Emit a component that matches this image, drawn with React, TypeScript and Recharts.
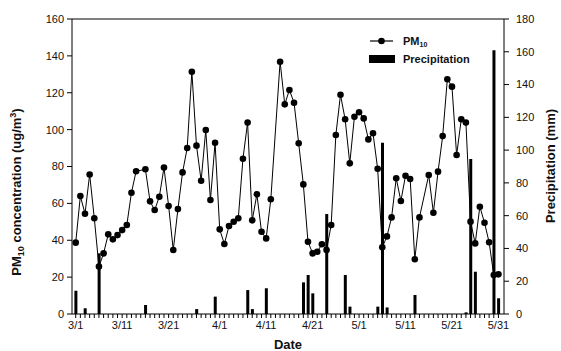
import React from 'react';
import { ComposedChart, Line, Bar, XAxis, YAxis, ReferenceLine, Legend, Label } from 'recharts';

// Calendar days 3/1 .. 5/31
const monthLengths: [number, number][] = [[3, 31], [4, 30], [5, 31]];
const dates: string[] = [];
monthLengths.forEach(([m, n]) => {
  for (let d = 1; d <= n; d++) dates.push(`${m}/${d}`);
});

const tickLabels = ['3/1', '3/11', '3/21', '4/1', '4/11', '4/21', '5/1', '5/11', '5/21', '5/31'];

// PM10 daily concentration (ug/m3), null = missing day
const pm10: (number | null)[] = [
  38.7, 64, 54.4, 75.7, 51.9, 25.7, 32.9, 43.2, 40.5, 42.8, 45.5, 48.3, 65.8, 77.4,
  null,
  78.5, 61.1, 56.4, 63.6, 79.4, 58.6, 34.7, 56.9, 76.8, 90, 131.4, 91.3, 72.3, 99.8,
  61.8, 92.9, 45.9, 38, 47.7, 50, 51.9, 84.2, 103.8, 50.8, 64.9, 44.6, 41, 62.2,
  null,
  136.8, 113.7, 121.5, 114.6, 92.6, 70.3, 39.2, 32.9, 33.8, 37.8, 34.7, 48.3, 97.1,
  118.9, 105.6, 81.7, 107, 109.4, 106.1, 94.7, 98, 78.8, 36.2, 42.1, 52.4, 73.6,
  61.3, 75, 73.2, 29.7, 52.4,
  null,
  75.4, 54.9, 77.2, 96.5, 127.3, 123.3, 86.2, 105.6, 103.8, 50.1, 38.3, 58.2, 49.5,
  38.9, 21.1, 21.5,
];

// Daily precipitation (mm)
const precipitation: number[] = [
  14.2, 0, 3.5, 0, 0, 37, 0, 0, 0, 0, 0, 0, 0, 0, 0, 5.5, 0, 0, 0, 0,
  0, 0, 0, 0, 0, 0, 3, 0, 0, 0, 10.6, 0, 0, 0, 0, 0, 0, 14.6, 3, 0,
  0, 15.7, 0, 0, 0, 0, 0, 0, 0, 19.3, 23.8, 12.6, 0, 0, 61, 0, 0, 0, 23.8, 4.5,
  0, 0, 0, 0, 0, 4.5, 104.5, 4, 0, 0, 0, 0, 0, 11.6, 0, 0, 0, 0, 0, 0,
  0, 0, 0, 0, 1, 94.6, 25.8, 0, 0, 0, 161, 9.6,
];

const dayIndices = dates.map((_, i) => i);
const tableData = dates.map((date, i) => ({
  day: i,
  date,
  pm10: pm10[i],
  precip: precipitation[i] > 0 ? precipitation[i] : null,
}));

const FONT = '"Liberation Sans", Arial, sans-serif';
const tickStyle = { fontSize: 11, fill: '#111', fontFamily: FONT };

const LeftTitle = () => (
  <text
    x={21}
    y={192}
    transform="rotate(-90, 21, 192)"
    textAnchor="middle"
    fontFamily={FONT}
    fontWeight="bold"
    fontSize={13}
    fill="#111"
  >
    PM<tspan fontSize={9} dy={3}>10</tspan>
    <tspan dy={-3}> concentration (ug/m</tspan>
    <tspan fontSize={9} dy={-5}>3</tspan>
    <tspan dy={5}>)</tspan>
  </text>
);

const RightTitle = () => (
  <text
    x={555}
    y={166}
    transform="rotate(-90, 555, 166)"
    textAnchor="middle"
    fontFamily={FONT}
    fontWeight="bold"
    fontSize={13}
    fill="#111"
  >
    Precipitation (mm)
  </text>
);

const BottomTitle = () => (
  <text x={288} y={349} textAnchor="middle" fontFamily={FONT} fontWeight="bold" fontSize={13} fill="#111">
    Date
  </text>
);

const LegendContent = () => (
  <svg width={130} height={36} style={{ display: 'block' }}>
    <line x1={2} y1={8} x2={25} y2={8} stroke="#000" strokeWidth={1.2} />
    <circle cx={13.5} cy={8} r={3.3} fill="#000" />
    <text x={35} y={12} fontFamily={FONT} fontWeight="bold" fontSize={11} fill="#111">
      PM<tspan fontSize={7} dy={2}>10</tspan>
    </text>
    <rect x={1} y={22} width={26} height={8} fill="#000" />
    <text x={35} y={30} fontFamily={FONT} fontWeight="bold" fontSize={11} fill="#111">
      Precipitation
    </text>
  </svg>
);

export default function App() {
  return (
    <div style={{ position: 'absolute', left: 0, top: 0, background: '#fff' }}>
      <ComposedChart
        width={561}
        height={351}
        data={tableData}
        margin={{ top: 19, right: 0, bottom: 7, left: 0 }}
      >
        <XAxis
          dataKey="day"
          type="number"
          domain={[-0.8, 92.2]}
          ticks={dayIndices}
          interval={0}
          allowDataOverflow
          tickFormatter={(v: number) => (tickLabels.includes(dates[v]) ? dates[v] : '')}
          tick={tickStyle}
          tickSize={4}
          tickMargin={3}
          height={30}
          stroke="#000"
          axisLine={{ stroke: '#000' }}
          tickLine={{ stroke: '#000' }}
        >
          <Label content={<BottomTitle />} />
        </XAxis>
        <YAxis
          yAxisId="left"
          domain={[0, 160]}
          ticks={[0, 20, 40, 60, 80, 100, 120, 140, 160]}
          width={72}
          tick={tickStyle}
          tickSize={5}
          tickMargin={3}
          axisLine={{ stroke: '#000' }}
          tickLine={{ stroke: '#000' }}
        >
          <Label content={<LeftTitle />} />
        </YAxis>
        <YAxis
          yAxisId="right"
          orientation="right"
          domain={[0, 180]}
          ticks={[0, 20, 40, 60, 80, 100, 120, 140, 160, 180]}
          width={57}
          tick={tickStyle}
          tickSize={5}
          tickMargin={7}
          axisLine={{ stroke: '#000' }}
          tickLine={{ stroke: '#000' }}
        >
          <Label content={<RightTitle />} />
        </YAxis>
        <ReferenceLine yAxisId="left" y={160} stroke="#000" strokeWidth={1} />
        <Bar
          yAxisId="right"
          dataKey="precip"
          name="Precipitation"
          fill="#000"
          barSize={3}
          isAnimationActive={false}
        />
        <Line
          yAxisId="left"
          dataKey="pm10"
          name="PM10"
          stroke="#000"
          strokeWidth={1}
          connectNulls
          dot={{ r: 3.3, fill: '#000', stroke: '#000', strokeWidth: 0 }}
          activeDot={false}
          isAnimationActive={false}
        />
        <Legend
          verticalAlign="middle"
          layout="horizontal"
          content={<LegendContent />}
          wrapperStyle={{ position: 'absolute', left: 368, top: 33, width: 130, height: 36 }}
        />
      </ComposedChart>
    </div>
  );
}
